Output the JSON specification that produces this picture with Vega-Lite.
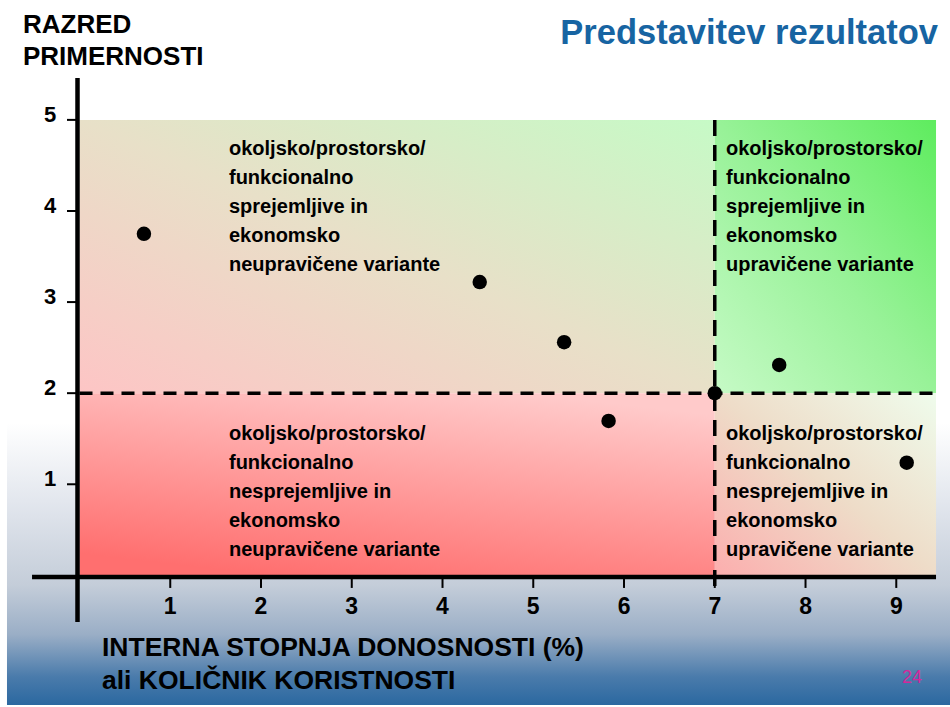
{
  "$schema": "https://vega.github.io/schema/vega-lite/v6.json",
  "width": 950,
  "height": 707,
  "autosize": "none",
  "padding": 0,
  "background": "white",
  "config": {"view": {"stroke": null}, "text": {"font": "Liberation Sans"}},
  "datasets": {
    "bg": [{"x": -0.799, "x2": 9.592, "y": 6.316, "y2": -1.423}],
    "qtl": [{"x": 0, "x2": 7, "y": 5, "y2": 2}],
    "qtr": [{"x": 7, "x2": 9.438, "y": 5, "y2": 2}],
    "qbl": [{"x": 0, "x2": 7, "y": 2, "y2": 0}],
    "qbr": [{"x": 7, "x2": 9.438, "y": 2, "y2": 0}],
    "hdash": [{"x": 0, "x2": 9.438, "y": 2}],
    "vdash": [{"x": 7, "y": 5, "y2": -0.125}],
    "vaxis": [{"x": -0.022, "y": 5.46, "y2": -0.512}],
    "haxis": [{"x": -0.523, "x2": 9.438, "y": -0.018}],
    "xticks": [
      {"v": 1, "lab": "1"}, {"v": 2, "lab": "2"}, {"v": 3, "lab": "3"},
      {"v": 4, "lab": "4"}, {"v": 5, "lab": "5"}, {"v": 6, "lab": "6"},
      {"v": 7, "lab": "7"}, {"v": 8, "lab": "8"}, {"v": 9, "lab": "9"}
    ],
    "yticks": [
      {"v": 1, "lab": "1"}, {"v": 2, "lab": "2"}, {"v": 3, "lab": "3"},
      {"v": 4, "lab": "4"}, {"v": 5, "lab": "5"}
    ],
    "points": [
      {"isd": 0.71, "razred": 3.75},
      {"isd": 4.41, "razred": 3.22},
      {"isd": 5.34, "razred": 2.56},
      {"isd": 5.83, "razred": 1.695},
      {"isd": 7.0, "razred": 2.0},
      {"isd": 7.71, "razred": 2.31},
      {"isd": 9.115, "razred": 1.237}
    ],
    "quadlabels": [
      {"x": 1.647, "y": 4.615, "label": "okoljsko/prostorsko/\nfunkcionalno\nsprejemljive in\nekonomsko\nneupravičene variante"},
      {"x": 7.124, "y": 4.615, "label": "okoljsko/prostorsko/\nfunkcionalno\nsprejemljive in\nekonomsko\nupravičene variante"},
      {"x": 1.647, "y": 1.486, "label": "okoljsko/prostorsko/\nfunkcionalno\nnesprejemljive in\nekonomsko\nneupravičene variante"},
      {"x": 7.124, "y": 1.486, "label": "okoljsko/prostorsko/\nfunkcionalno\nnesprejemljive in\nekonomsko\nupravičene variante"}
    ],
    "title": [{"x": 9.46, "y": 5.833, "label": "Predstavitev rezultatov"}],
    "ytitle": [{"x": -0.623, "y": 5.951, "label": "RAZRED\nPRIMERNOSTI"}],
    "xtitle": [{"x": 0.248, "y": -0.885, "label": "INTERNA STOPNJA DONOSNOSTI (%)\nali KOLIČNIK KORISTNOSTI"}],
    "page": [{"x": 9.173, "y": -1.126, "label": "24"}]
  },
  "layer": [
    {
      "data": {"name": "bg"},
      "mark": {"type": "rect", "fill": {"gradient": "linear", "x1": 0, "y1": 0, "x2": 0, "y2": 1,
        "stops": [
          {"offset": 0, "color": "#ffffff"},
          {"offset": 0.6, "color": "#ffffff"},
          {"offset": 0.71, "color": "#e3e7ee"},
          {"offset": 0.83, "color": "#c4cdd9"},
          {"offset": 0.9, "color": "#9aaec6"},
          {"offset": 0.96, "color": "#4a7bab"},
          {"offset": 1, "color": "#2b68a0"}
        ]}},
      "encoding": {
        "x": {"field": "x", "type": "quantitative", "scale": {"domain": [-0.876, 9.592], "nice": false, "zero": false}, "axis": null},
        "x2": {"field": "x2"},
        "y": {"field": "y", "type": "quantitative", "scale": {"domain": [-1.445, 6.316], "nice": false, "zero": false}, "axis": null},
        "y2": {"field": "y2"}
      }
    },
    {
      "data": {"name": "qtl"},
      "mark": {"type": "rect", "fill": {"gradient": "linear", "x1": 0, "y1": 1, "x2": 1, "y2": 0,
        "stops": [
          {"offset": 0, "color": "#fdc5c5"},
          {"offset": 0.5, "color": "#e8e0c8"},
          {"offset": 1, "color": "#c6fac6"}
        ]}},
      "encoding": {
        "x": {"field": "x", "type": "quantitative"}, "x2": {"field": "x2"},
        "y": {"field": "y", "type": "quantitative"}, "y2": {"field": "y2"}
      }
    },
    {
      "data": {"name": "qtr"},
      "mark": {"type": "rect", "fill": {"gradient": "linear", "x1": 0, "y1": 1, "x2": 1, "y2": 0,
        "stops": [
          {"offset": 0, "color": "#c6fac6"},
          {"offset": 0.5, "color": "#98f298"},
          {"offset": 1, "color": "#5eec5e"}
        ]}},
      "encoding": {
        "x": {"field": "x", "type": "quantitative"}, "x2": {"field": "x2"},
        "y": {"field": "y", "type": "quantitative"}, "y2": {"field": "y2"}
      }
    },
    {
      "data": {"name": "qbl"},
      "mark": {"type": "rect", "fill": {"gradient": "linear", "x1": 0.3, "y1": 1, "x2": 0.7, "y2": 0,
        "stops": [
          {"offset": 0, "color": "#ff6f6f"},
          {"offset": 1, "color": "#ffcaca"}
        ]}},
      "encoding": {
        "x": {"field": "x", "type": "quantitative"}, "x2": {"field": "x2"},
        "y": {"field": "y", "type": "quantitative"}, "y2": {"field": "y2"}
      }
    },
    {
      "data": {"name": "qbr"},
      "mark": {"type": "rect", "fill": {"gradient": "linear", "x1": 0, "y1": 1, "x2": 1, "y2": 0,
        "stops": [
          {"offset": 0, "color": "#fcaeae"},
          {"offset": 0.5, "color": "#eedcc8"},
          {"offset": 1, "color": "#effcec"}
        ]}},
      "encoding": {
        "x": {"field": "x", "type": "quantitative"}, "x2": {"field": "x2"},
        "y": {"field": "y", "type": "quantitative"}, "y2": {"field": "y2"}
      }
    },
    {
      "data": {"name": "hdash"},
      "mark": {"type": "rule", "color": "black", "strokeWidth": 3.5, "strokeDash": [13, 8]},
      "encoding": {
        "x": {"field": "x", "type": "quantitative"}, "x2": {"field": "x2"},
        "y": {"field": "y", "type": "quantitative"}
      }
    },
    {
      "data": {"name": "vdash"},
      "mark": {"type": "rule", "color": "black", "strokeWidth": 3.5, "strokeDash": [16, 9]},
      "encoding": {
        "x": {"field": "x", "type": "quantitative"},
        "y": {"field": "y", "type": "quantitative"}, "y2": {"field": "y2"}
      }
    },
    {
      "data": {"name": "vaxis"},
      "mark": {"type": "rule", "color": "black", "strokeWidth": 4.5},
      "encoding": {
        "x": {"field": "x", "type": "quantitative"},
        "y": {"field": "y", "type": "quantitative"}, "y2": {"field": "y2"}
      }
    },
    {
      "data": {"name": "haxis"},
      "mark": {"type": "rule", "color": "black", "strokeWidth": 4.5},
      "encoding": {
        "x": {"field": "x", "type": "quantitative"}, "x2": {"field": "x2"},
        "y": {"field": "y", "type": "quantitative"}
      }
    },
    {
      "data": {"name": "xticks"},
      "mark": {"type": "rule", "color": "black", "strokeWidth": 2},
      "encoding": {
        "x": {"field": "v", "type": "quantitative"},
        "y": {"datum": -0.018, "type": "quantitative"},
        "y2": {"datum": -0.138}
      }
    },
    {
      "data": {"name": "yticks"},
      "mark": {"type": "rule", "color": "black", "strokeWidth": 2},
      "encoding": {
        "y": {"field": "v", "type": "quantitative"},
        "x": {"datum": -0.138, "type": "quantitative"},
        "x2": {"datum": -0.022}
      }
    },
    {
      "data": {"name": "xticks"},
      "mark": {"type": "text", "fontSize": 23, "fontWeight": "bold", "align": "center", "baseline": "middle", "color": "black"},
      "encoding": {
        "x": {"field": "v", "type": "quantitative"},
        "y": {"datum": -0.352, "type": "quantitative"},
        "text": {"field": "lab"}
      }
    },
    {
      "data": {"name": "yticks"},
      "mark": {"type": "text", "fontSize": 22, "fontWeight": "bold", "align": "center", "baseline": "middle", "dy": -5, "color": "black"},
      "encoding": {
        "y": {"field": "v", "type": "quantitative"},
        "x": {"datum": -0.325, "type": "quantitative"},
        "text": {"field": "lab"}
      }
    },
    {
      "data": {"name": "points"},
      "mark": {"type": "point", "filled": true, "color": "black", "size": 210, "opacity": 1},
      "encoding": {
        "x": {"field": "isd", "type": "quantitative"},
        "y": {"field": "razred", "type": "quantitative"}
      }
    },
    {
      "data": {"name": "quadlabels"},
      "mark": {"type": "text", "fontSize": 20, "fontWeight": "bold", "align": "left", "baseline": "alphabetic", "lineBreak": "\n", "lineHeight": 29, "color": "black"},
      "encoding": {
        "x": {"field": "x", "type": "quantitative"},
        "y": {"field": "y", "type": "quantitative"},
        "text": {"field": "label"}
      }
    },
    {
      "data": {"name": "title"},
      "mark": {"type": "text", "fontSize": 34.5, "fontWeight": "bold", "align": "right", "baseline": "alphabetic", "color": "#1764a2"},
      "encoding": {
        "x": {"field": "x", "type": "quantitative"},
        "y": {"field": "y", "type": "quantitative"},
        "text": {"field": "label"}
      }
    },
    {
      "data": {"name": "ytitle"},
      "mark": {"type": "text", "fontSize": 26, "fontWeight": "bold", "align": "left", "baseline": "alphabetic", "lineBreak": "\n", "lineHeight": 32, "color": "black"},
      "encoding": {
        "x": {"field": "x", "type": "quantitative"},
        "y": {"field": "y", "type": "quantitative"},
        "text": {"field": "label"}
      }
    },
    {
      "data": {"name": "xtitle"},
      "mark": {"type": "text", "fontSize": 26.5, "fontWeight": "bold", "align": "left", "baseline": "alphabetic", "lineBreak": "\n", "lineHeight": 33, "color": "black"},
      "encoding": {
        "x": {"field": "x", "type": "quantitative"},
        "y": {"field": "y", "type": "quantitative"},
        "text": {"field": "label"}
      }
    },
    {
      "data": {"name": "page"},
      "mark": {"type": "text", "fontSize": 18, "align": "center", "baseline": "middle", "color": "#d4289a"},
      "encoding": {
        "x": {"field": "x", "type": "quantitative"},
        "y": {"field": "y", "type": "quantitative"},
        "text": {"field": "label"}
      }
    }
  ]
}
